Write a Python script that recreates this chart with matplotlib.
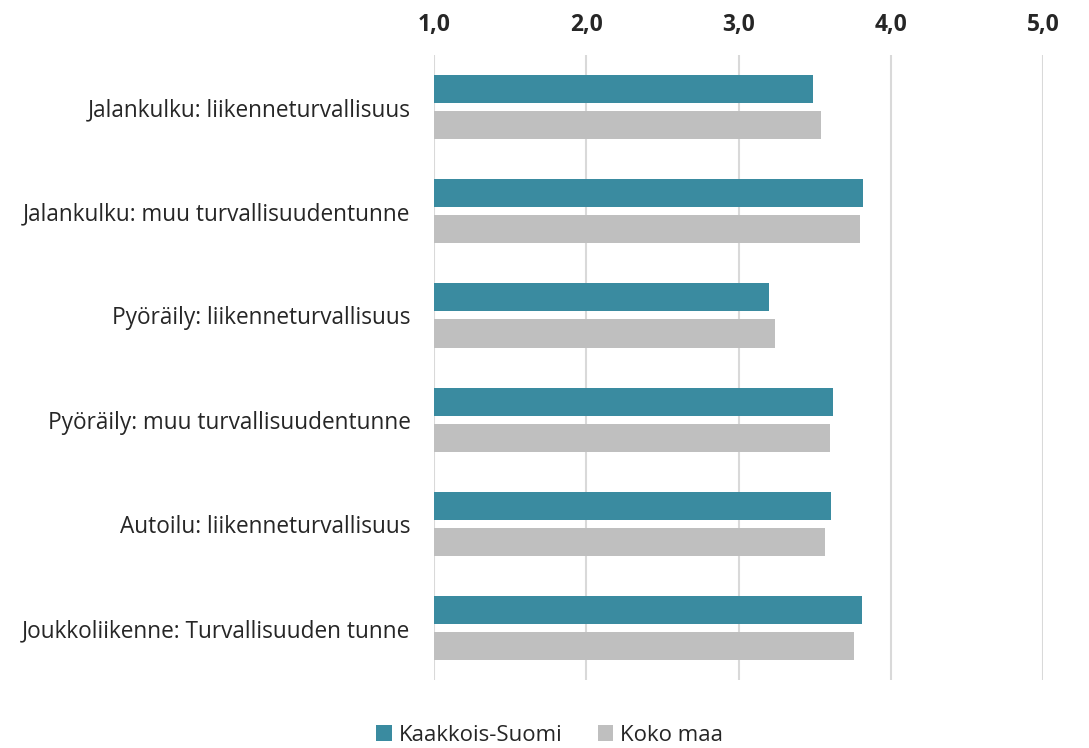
import matplotlib.pyplot as plt
import numpy as np

plt.rcParams['font.family'] = ['Open Sans', 'DejaVu Sans']

categories = ["Jalankulku: liikenneturvallisuus",
              "Jalankulku: muu turvallisuudentunne",
              "Pyöräily: liikenneturvallisuus",
              "Pyöräily: muu turvallisuudentunne",
              "Autoilu: liikenneturvallisuus",
              "Joukkoliikenne: Turvallisuuden tunne"]
kaakkois = [3.49, 3.82, 3.20, 3.62, 3.61, 3.81]
koko_maa = [3.54, 3.80, 3.24, 3.60, 3.57, 3.76]
ticks = [1, 2, 3, 4, 5]
tick_labels = ["1,0", "2,0", "3,0", "4,0", "5,0"]

fig = plt.figure(figsize=(10.89, 7.48), dpi=100)
ax = fig.add_axes([434/1089, 1 - 680/748, (1043-434)/1089, (680-55)/748])

y = np.arange(len(categories))
h = 0.27
off = 0.173
ax.barh(y - off, [v - 1 for v in kaakkois], left=1, height=h, color='#3A8BA0',
        label="Kaakkois-Suomi", zorder=3)
ax.barh(y + off, [v - 1 for v in koko_maa], left=1, height=h, color='#BFBFBF',
        label="Koko maa", zorder=3)

ax.set_xlim(1, 5)
ax.set_ylim(len(categories) - 0.5, -0.5)
ax.set_yticks(y)
ax.set_yticklabels(categories, fontsize=16.3, color='#262626')
ax.set_xticks(ticks)
ax.set_xticklabels(tick_labels, fontsize=16.5, fontweight='bold', color='#262626')
ax.xaxis.tick_top()
ax.tick_params(axis='x', length=0, pad=13)
ax.tick_params(axis='y', length=0, pad=17)
ax.grid(axis='x', color='#D9D9D9', linewidth=1.5, zorder=0)
for s in ax.spines.values():
    s.set_visible(False)

ax.legend(loc='upper center', bbox_to_anchor=(0.19, -0.04),
          ncol=2, frameon=False, fontsize=16, handlelength=0.7, handleheight=0.7,
          handletextpad=0.3, columnspacing=1.6, labelcolor='#262626')

fig.savefig("out.png", dpi=100)
